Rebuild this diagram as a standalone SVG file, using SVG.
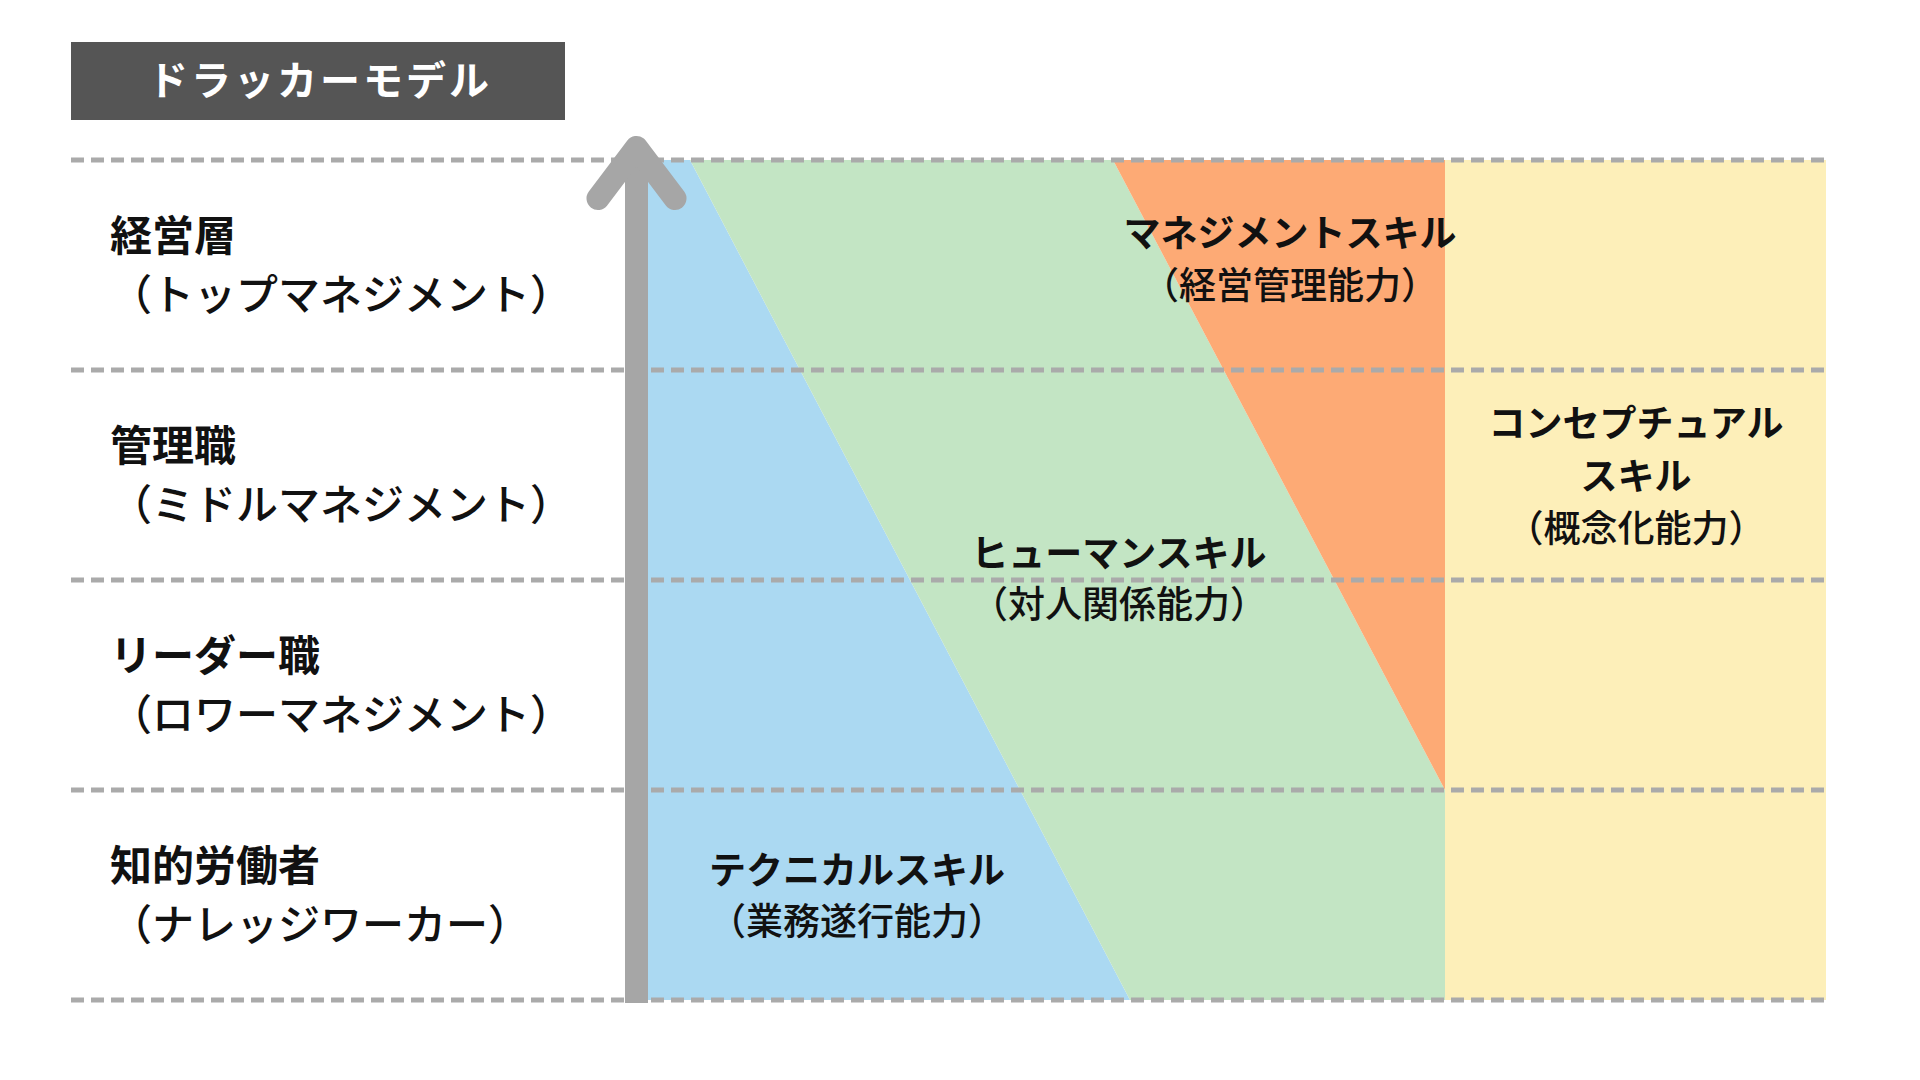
<svg xmlns="http://www.w3.org/2000/svg" width="1920" height="1080" viewBox="0 0 1920 1080">
  <style>
    text { font-family: "Noto Sans CJK JP", "Noto Sans", sans-serif; fill: #111111; }
    .title { font-size: 40px; font-weight: 700; fill: #ffffff; letter-spacing: 3px; }
    .rowhead { font-size: 42px; font-weight: 700; }
    .rowsub { font-size: 42px; font-weight: 500; }
    .skill { font-size: 37px; font-weight: 700; text-anchor: middle; }
    .skillsub { font-size: 37px; font-weight: 500; text-anchor: middle; }
    .dash { stroke: #aaaaaa; stroke-width: 5; stroke-dasharray: 13 7; fill: none; }
    .axis { stroke: #a6a6a6; stroke-width: 23; fill: none; }
  </style>
  <rect width="1920" height="1080" fill="#ffffff"/>

  <g id="areas">
    <polygon id="area-technical" points="636,160 690,160 1130,1000 636,1000" fill="#abd9f2"/>
    <polygon id="area-human" points="690,160 1113,160 1445,790 1445,1000 1130,1000" fill="#c3e5c4"/>
    <polygon id="area-management" points="1113,160 1445,160 1445,790" fill="#fdaa75"/>
    <polygon id="area-conceptual" points="1445,160 1826,160 1826,1000 1445,1000" fill="#fdefb9"/>
  </g>

  <g id="gridlines">
    <line class="dash" x1="71" y1="160" x2="1826" y2="160"/>
    <line class="dash" x1="71" y1="370" x2="1826" y2="370"/>
    <line class="dash" x1="71" y1="580" x2="1826" y2="580"/>
    <line class="dash" x1="71" y1="790" x2="1826" y2="790"/>
    <line class="dash" x1="71" y1="1000" x2="1826" y2="1000"/>
  </g>

  <g id="connectors">
    <line class="axis" x1="636.5" y1="1003" x2="636.5" y2="150"/>
    <polyline class="axis" points="598,198.5 636.5,147.5 675,198.5" stroke-linecap="round" stroke-linejoin="round"/>
  </g>

  <g id="title">
    <rect x="71" y="42" width="494" height="78" fill="#555555"/>
    <text class="title" x="320" y="95" text-anchor="middle">ドラッカーモデル</text>
  </g>

  <g id="row-top">
    <text class="rowhead" x="110" y="251">経営層</text>
    <text class="rowsub" x="110" y="310">（トップマネジメント）</text>
  </g>
  <g id="row-middle">
    <text class="rowhead" x="110" y="461">管理職</text>
    <text class="rowsub" x="110" y="520">（ミドルマネジメント）</text>
  </g>
  <g id="row-lower">
    <text class="rowhead" x="110" y="671">リーダー職</text>
    <text class="rowsub" x="110" y="730">（ロワーマネジメント）</text>
  </g>
  <g id="row-worker">
    <text class="rowhead" x="110" y="881">知的労働者</text>
    <text class="rowsub" x="110" y="940">（ナレッジワーカー）</text>
  </g>

  <g id="skill-management">
    <text class="skill" x="1290" y="247">マネジメントスキル</text>
    <text class="skillsub" x="1290" y="299">（経営管理能力）</text>
  </g>
  <g id="skill-conceptual">
    <text class="skill" x="1636" y="437">コンセプチュアル</text>
    <text class="skill" x="1636" y="490">スキル</text>
    <text class="skillsub" x="1636" y="542">（概念化能力）</text>
  </g>
  <g id="skill-human">
    <text class="skill" x="1119" y="567">ヒューマンスキル</text>
    <text class="skillsub" x="1119" y="618">（対人関係能力）</text>
  </g>
  <g id="skill-technical">
    <text class="skill" x="857" y="884">テクニカルスキル</text>
    <text class="skillsub" x="857" y="935">（業務遂行能力）</text>
  </g>
</svg>
